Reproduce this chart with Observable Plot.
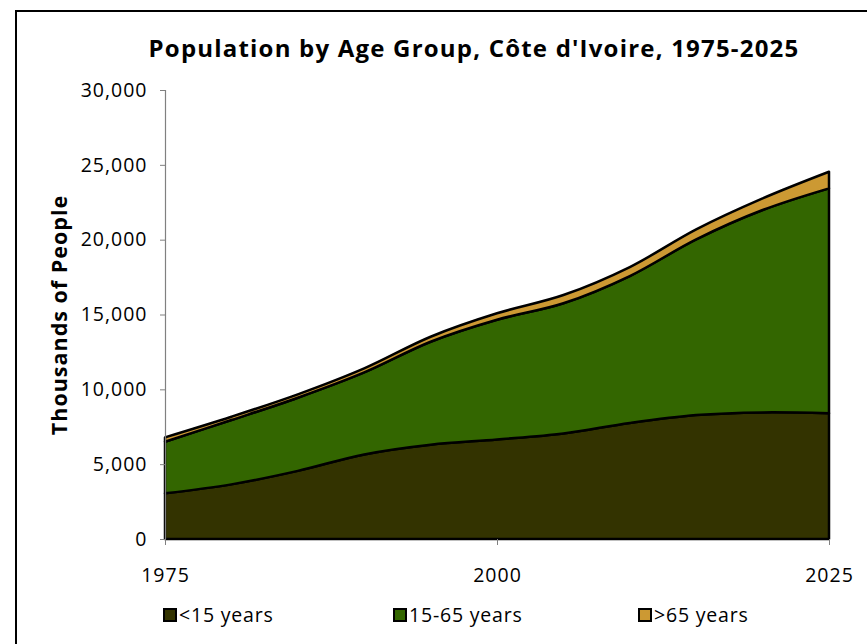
<!DOCTYPE html>
<html>
<head>
<meta charset="utf-8">
<script src="https://cdn.jsdelivr.net/npm/d3@7"></script>
<script src="https://cdn.jsdelivr.net/npm/@observablehq/plot@0.6"></script>
<style>
  body { margin: 0; background: #fff; font-family: "Open Sans", sans-serif; }
  #frame { position: absolute; left: 15px; top: 10px; width: 900px; height: 700px; border: 2px solid #000; box-sizing: border-box; }
  #title { position: absolute; left: 0; top: 31px; width: 948px; text-align: center; font-weight: bold; font-size: 24px; letter-spacing: 1.2px; color: #000; white-space: nowrap; }
  #chart { position: absolute; left: 0; top: 0; }
  .leg { position: absolute; top: 601px; display: flex; align-items: center; font-size: 19.5px; letter-spacing: 0.8px; color: #000; white-space: nowrap; }
  .sw { width: 10px; height: 10px; border: 2px solid #000; margin-right: 2px; }
</style>
</head>
<body>
<div id="frame"></div>
<div id="title">Population by Age Group, Côte d'Ivoire, 1975-2025</div>
<div id="chart"></div>
<div id="legend"></div>
<script>
const years = [1975, 1980, 1985, 1990, 1995, 2000, 2005, 2010, 2015, 2020, 2025];
const under15 = [3050, 3650, 4550, 5650, 6300, 6650, 7050, 7750, 8280, 8460, 8400];
const age15to65 = [3450, 4300, 4890, 5480, 6880, 8000, 8700, 9820, 11740, 13520, 15030];
const over65 = [290, 220, 225, 270, 335, 430, 550, 600, 670, 780, 1110];
const groups = ["<15 years", "15-65 years", ">65 years"];
const colors = ["#333300", "#336600", "#CC9933"];
const yTicks = [0, 5000, 10000, 15000, 20000, 25000, 30000];
const xTicks = [1975, 2000, 2025];
const legendX = [163, 393, 638];

const series = [under15, age15to65, over65];
const rows = [];
groups.forEach((g, gi) => years.forEach((yr, i) => rows.push({ year: yr, group: g, value: series[gi][i] })));

const plot = Plot.plot({
  width: 867,
  height: 600,
  marginTop: 90,
  marginBottom: 61,
  marginLeft: 165,
  marginRight: 38,
  style: { fontFamily: "Open Sans, sans-serif", fontSize: "19.5px", letterSpacing: "1px", color: "#000", background: "transparent", overflow: "visible" },
  x: { domain: [1975, 2025] },
  y: { domain: [0, 30000] },
  color: { domain: groups, range: colors },
  marks: [
    Plot.areaY(rows, { x: "year", y: "value", z: "group", fill: "group", order: groups, stroke: "#000", strokeWidth: 2.5, strokeLinejoin: "round", curve: "catmull-rom" }),
    Plot.ruleX([1975], { y1: 0, y2: 30000, stroke: "#808080", strokeWidth: 1.2 }),
    Plot.axisY({ ticks: yTicks, tickFormat: d3.format(","), tickSize: 5, tickPadding: 13, stroke: "#808080", fill: "#000", label: null }),
    Plot.axisX({ ticks: xTicks, tickFormat: d => String(d), tickSize: 6, tickPadding: 23, stroke: "#808080", fill: "#000", label: null }),
    Plot.text(["Thousands of People"], { frameAnchor: "left", textAnchor: "middle", dx: -105, rotate: -90, fontWeight: "bold", fontSize: 21.5, fill: "#000" })
  ]
});
document.getElementById("chart").append(plot);

const legend = document.getElementById("legend");
groups.forEach((g, i) => {
  const item = document.createElement("div");
  item.className = "leg";
  item.style.left = legendX[i] + "px";
  const sw = document.createElement("div");
  sw.className = "sw";
  sw.style.background = colors[i];
  const t = document.createElement("span");
  t.textContent = g;
  item.append(sw, t);
  legend.append(item);
});
</script>
</body>
</html>
